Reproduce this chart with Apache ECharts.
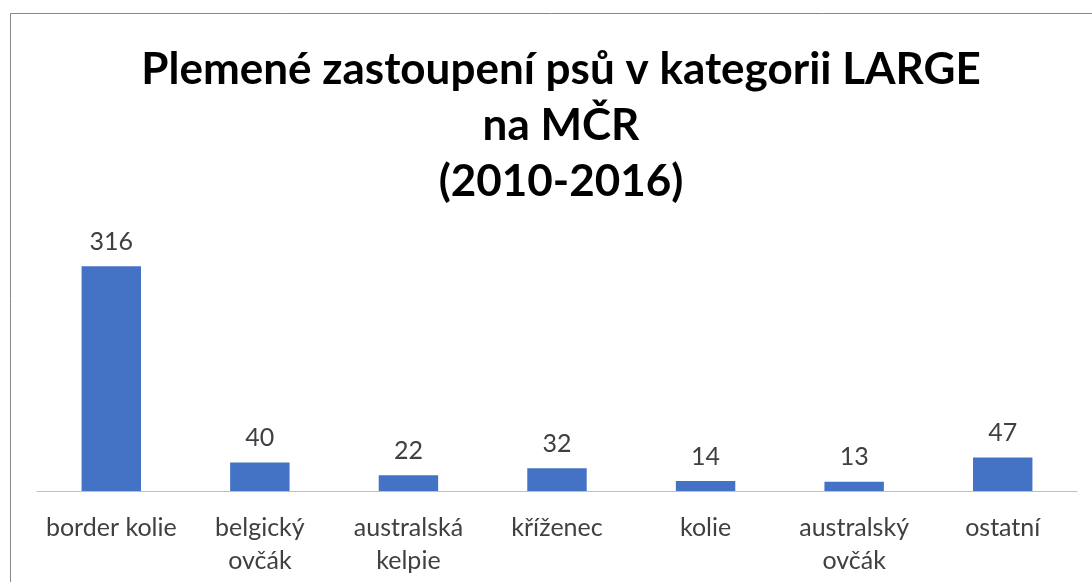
<!DOCTYPE html>
<html><head><meta charset="utf-8">
<script src="https://cdn.jsdelivr.net/npm/echarts@6/dist/echarts.min.js"></script>
<style>html,body{margin:0;padding:0;background:#fff}#c{width:1092px;height:582px}</style>
</head><body><div id="c"></div>
<script>
const categories = ['border kolie', 'belgický\novčák', 'australská\nkelpie', 'kříženec', 'kolie', 'australský\novčák', 'ostatní'];
const values = [316, 40, 22, 32, 14, 13, 47];
const titleText = 'Plemené zastoupení psů v kategorii LARGE\nna MČR\n(2010-2016)';

const chart = echarts.init(document.getElementById('c'));
chart.setOption({
  animation: false,
  backgroundColor: '#fff',
  title: {
    text: titleText,
    left: 556, top: 37, textAlign: 'center',
    textStyle: { fontFamily: 'Lato', fontWeight: 'bold', fontSize: 44, lineHeight: 56, color: '#000' }
  },
  graphic: [{
    type: 'rect', shape: { x: 10.5, y: 13.5, width: 1200, height: 700 },
    style: { fill: 'none', stroke: '#888', lineWidth: 1 }, silent: true
  }],
  grid: { left: 37, right: 15, top: 242, bottom: 91 },
  xAxis: {
    type: 'category', data: categories,
    axisLine: { lineStyle: { color: '#bfbfbf', width: 1 } },
    axisTick: { show: false },
    axisLabel: { color: '#404040', fontFamily: 'Lato', fontSize: 25, lineHeight: 33, margin: 20, interval: 0 }
  },
  yAxis: { type: 'value', min: 0, max: 350, show: false, splitLine: { show: false } },
  series: [{
    type: 'bar', data: values, barWidth: '40%',
    itemStyle: { color: '#4472c4' },
    label: { show: true, position: 'top', distance: 12, color: '#404040', fontFamily: 'Lato', fontSize: 25 }
  }]
});
</script></body></html>
